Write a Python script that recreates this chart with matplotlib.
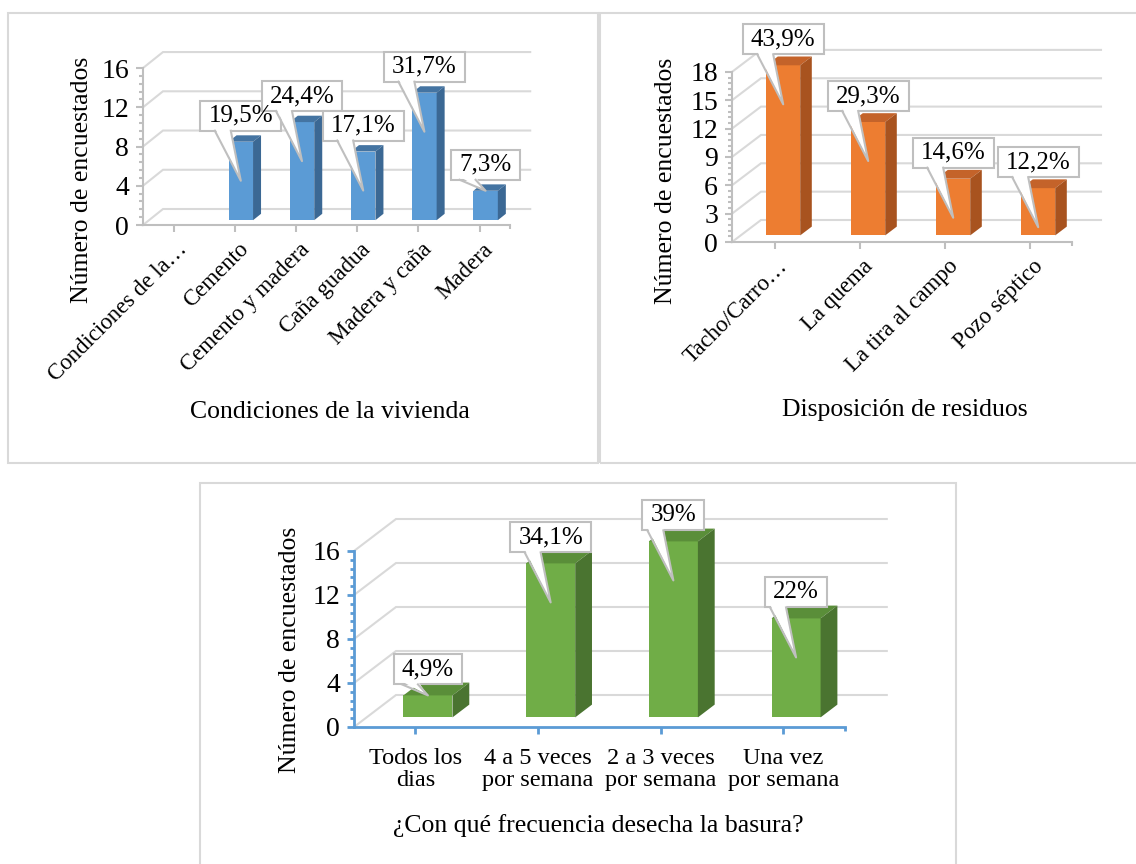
import numpy as np
import matplotlib
matplotlib.use("Agg")
import matplotlib.pyplot as plt
from matplotlib.patches import Polygon, Rectangle
from matplotlib.lines import Line2D
from matplotlib.ticker import FixedLocator
from matplotlib.transforms import ScaledTranslation

plt.rcParams['font.family'] = ['Liberation Serif', 'DejaVu Serif']

W, H = 1136, 864

# Condiciones de la vivienda
viv_labels = ['Condiciones de la…', 'Cemento', 'Cemento y madera',
              'Caña guadua', 'Madera y caña', 'Madera']
viv_counts = [0, 8, 10, 7, 13, 3]
viv_pct = ['', '19,5%', '24,4%', '17,1%', '31,7%', '7,3%']

# Disposicion de residuos
res_labels = ['Tacho/Carro…', 'La quema', 'La tira al campo', 'Pozo séptico']
res_counts = [18, 12, 6, 5]
res_pct = ['43,9%', '29,3%', '14,6%', '12,2%']

# Frecuencia de desecho
frec_labels = ['Todos los\ndias', '4 a 5 veces\npor semana',
               '2 a 3 veces\npor semana', 'Una vez\npor semana']
frec_counts = [2, 14, 16, 9]
frec_pct = ['4,9%', '34,1%', '39%', '22%']

# front, top, side
BLUE = ('#5B9BD5', '#4474A2', '#3B6894')
ORANGE = ('#ED7D31', '#C4632A', '#A8531F')
GREEN = ('#70AD47', '#5A8E39', '#4A7430')
GRID = '#D9D9D9'
EDGE = '#BFBFBF'

fig = plt.figure(figsize=(W / 100, H / 100), dpi=100)
renderer = fig.canvas.get_renderer()


def px_rect(x0, y0, x1, y1):
    fig.add_artist(Rectangle((x0 / W, 1 - y1 / H), (x1 - x0) / W, (y1 - y0) / H,
                             transform=fig.transFigure, fill=False,
                             ec=GRID, lw=1.5))


def callout(ax, cx, top, text, front_h):
    # everything here works in pixels (display coords), origin bottom-left
    px, py = ax.transData.transform((cx, top))
    t = fig.text(px / W, (py + 26) / H, text, ha='center', va='center',
                 fontsize=18, zorder=9)
    bb = t.get_window_extent(renderer)
    x0, x1 = bb.x0 - 8, bb.x1 + 8
    y0, y1 = bb.y0 - 4, bb.y1 + 4
    fig.add_artist(Rectangle((x0 / W, y0 / H), (x1 - x0) / W, (y1 - y0) / H,
                             transform=fig.transFigure, fc='white', ec=EDGE,
                             lw=1.5, zorder=7))
    drop = 39 if front_h > 46 else 0
    pts = np.array([(px - 26, y0), (px, py - drop), (px - 10, y0)])
    fill = pts + [[0, 3], [0, 0], [0, 3]]
    fig.add_artist(Polygon(fill / [W, H], closed=True, fc='white', ec='none',
                           transform=fig.transFigure, zorder=8))
    fig.add_artist(Line2D(pts[:, 0] / W, pts[:, 1] / H, color=EDGE, lw=1.5,
                          transform=fig.transFigure, zorder=8))


def chart3d(left, floor, cat_px, unit_px, depth, ymax, step, counts, pcts,
            labels, colors, axis_color, rotate):
    n = len(counts)
    ddx = depth[0] / cat_px
    ddy = depth[1] / unit_px
    x_lo, x_hi = -0.5, n - 0.5 + ddx + 0.02
    y_lo, y_hi = 0, ymax + ddy + 1
    ax = fig.add_axes([left / W, 1 - floor / H, (x_hi - x_lo) * cat_px / W,
                       (y_hi - y_lo) * unit_px / H])
    ax.set_xlim(x_lo, x_hi)
    ax.set_ylim(y_lo, y_hi)
    ax.patch.set_visible(False)

    # side wall and back wall gridlines
    for v in np.arange(0, ymax + step / 2, step):
        ax.plot([-0.5, -0.5 + ddx, n - 0.5 + ddx], [v, v + ddy, v + ddy],
                color=GRID, lw=1.5, zorder=1, clip_on=False,
                solid_joinstyle='miter')

    f0, f1, w = 0.3, 0.7, 0.4
    sx, sy = (f1 - f0) * ddx, (f1 - f0) * ddy
    for i, v in enumerate(counts):
        if v <= 0:
            continue
        xl = i - w / 2 + f0 * ddx
        xr = xl + w
        yb = f0 * ddy
        yt = yb + v
        ax.add_patch(Rectangle((xl, yb), w, v, fc=colors[0], ec='none', zorder=3))
        ax.add_patch(Polygon([(xl, yt), (xr, yt), (xr + sx, yt + sy), (xl + sx, yt + sy)],
                             fc=colors[1], ec='none', zorder=3))
        ax.add_patch(Polygon([(xr, yb), (xr + sx, yb + sy), (xr + sx, yt + sy), (xr, yt)],
                             fc=colors[2], ec='none', zorder=3))
        callout(ax, xl + w / 2, yt, pcts[i], v * unit_px)

    for s in ['top', 'right']:
        ax.spines[s].set_visible(False)
    lw = 1.5 if axis_color == EDGE else 2
    ax.spines['left'].set_bounds(0, ymax)
    ax.spines['bottom'].set_bounds(-0.5, n - 0.5)
    for s in ['left', 'bottom']:
        ax.spines[s].set_color(axis_color)
        ax.spines[s].set_linewidth(lw)
        ax.spines[s].set_zorder(2)

    ax.yaxis.set_major_locator(FixedLocator(np.arange(0, ymax + step / 2, step)))
    ax.yaxis.set_minor_locator(FixedLocator(np.arange(0, ymax + 1e-6, step / 5)))
    ax.xaxis.set_major_locator(FixedLocator(range(n)))
    ax.xaxis.set_minor_locator(FixedLocator([n - 0.5]))
    ax.set_xticklabels(labels)
    ax.tick_params(which='major', direction='out', length=5, width=lw, color=axis_color)
    ax.tick_params(which='minor', direction='out', length=3, width=lw, color=axis_color)
    ax.tick_params(axis='y', pad=5, labelsize=20)
    if rotate:
        ax.tick_params(axis='x', pad=5, labelsize=16.5)
        shift = ScaledTranslation(3 / 100, 0, fig.dpi_scale_trans)
        for lab in ax.get_xticklabels():
            lab.set_rotation(45)
            lab.set_ha('right')
            lab.set_va('top')
            lab.set_rotation_mode('anchor')
            lab.set_transform(lab.get_transform() + shift)
    else:
        ax.tick_params(axis='x', pad=10, labelsize=17.5)
        for lab in ax.get_xticklabels():
            lab.set_linespacing(1.1)
    return ax


# panel frames
px_rect(8, 13, 598, 463)
px_rect(600, 13, 1160, 463)
px_rect(200, 483, 956, 900)

chart3d(143, 225, 61.2, 9.81, (20, 16), 16, 4, viv_counts, viv_pct,
        viv_labels, BLUE, EDGE, True)
chart3d(732, 242, 85, 9.45, (29, 22), 18, 3, res_counts, res_pct,
        res_labels, ORANGE, EDGE, True)
chart3d(354, 727, 122.7, 11, (42, 32), 16, 4, frec_counts, frec_pct,
        frec_labels, GREEN, '#5B9BD5', False)


def fig_text(x, y, s, rot=0):
    fig.text(x / W, 1 - y / H, s, ha='center', va='center', rotation=rot, fontsize=18.5)


fig_text(82, 180, 'Número de encuestados', 90)
fig_text(330, 412, 'Condiciones de la vivienda')
fig_text(666, 181, 'Número de encuestados', 90)
fig_text(905, 410, 'Disposición de residuos')
fig_text(290, 650, 'Número de encuestados', 90)
fig_text(598, 826, '¿Con qué frecuencia desecha la basura?')

fig.savefig('out.png', dpi=100)
